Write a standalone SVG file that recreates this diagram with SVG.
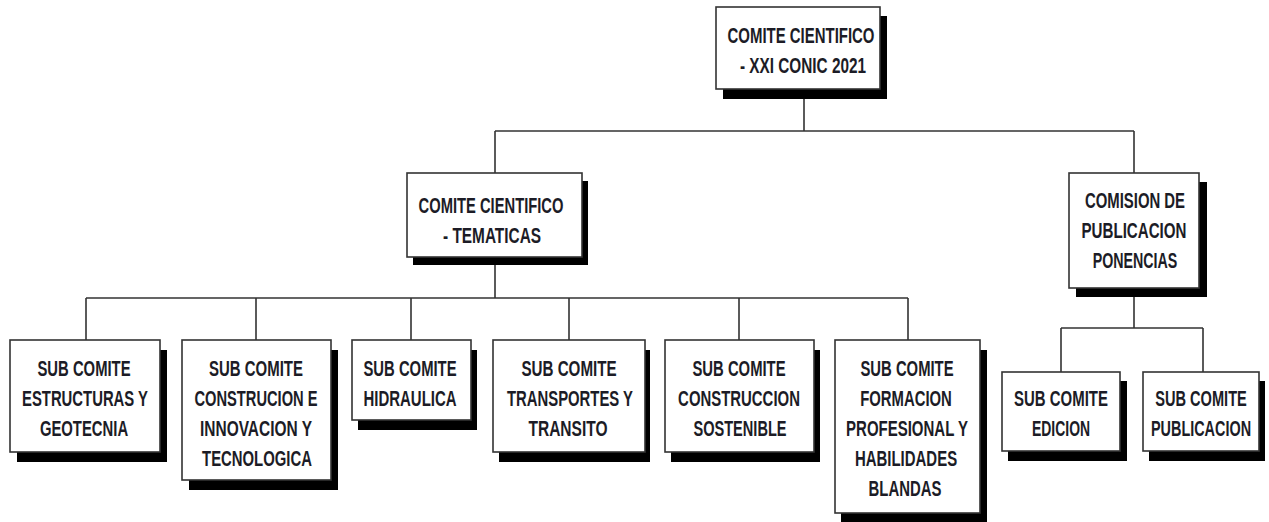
<svg xmlns="http://www.w3.org/2000/svg" width="1269" height="522" viewBox="0 0 1269 522">
<style>
.box{fill:#fff;stroke:#333;stroke-width:1.6}
.sh{fill:#000}
.t{font-family:"Liberation Sans Narrow","Liberation Sans",Arial,sans-serif;font-weight:bold;font-size:22px;fill:#1c1c26;text-anchor:middle}
.c{stroke:#333;stroke-width:1.6;fill:none}
</style>
<rect width="1269" height="522" fill="#fff"/>
<g id="connectors">
<path class="c" d="M804 89V131M495 131H1134M495 131V173M1134 131V173"/>
<path class="c" d="M495 257V298M86 298H908M86 298V340M256 298V340M411 298V340M569 298V340M739 298V340M908 298V340"/>
<path class="c" d="M1134 288V328M1061 328H1203M1061 328V372M1203 328V372"/>
</g>
<g id="n-top">
<rect class="sh" x="723" y="16" width="164" height="83"/>
<rect class="box" x="716" y="7" width="164" height="82"/>
<text class="t" transform="translate(801,43) scale(0.7,1)" textLength="210" lengthAdjust="spacingAndGlyphs">COMITE CIENTIFICO</text>
<text class="t" transform="translate(803,73) scale(0.7,1)" textLength="180" lengthAdjust="spacingAndGlyphs">- XXI CONIC 2021</text>
</g>
<g id="n-tematicas">
<rect class="sh" x="413" y="181" width="175" height="84"/>
<rect class="box" x="407" y="173" width="175" height="84"/>
<text class="t" transform="translate(491,213) scale(0.7,1)" textLength="207" lengthAdjust="spacingAndGlyphs">COMITE CIENTIFICO</text>
<text class="t" transform="translate(492,243) scale(0.7,1)" textLength="140" lengthAdjust="spacingAndGlyphs">- TEMATICAS</text>
</g>
<g id="n-comision">
<rect class="sh" x="1076" y="182" width="131" height="115"/>
<rect class="box" x="1069" y="173" width="130" height="115"/>
<text class="t" transform="translate(1135,208) scale(0.7,1)" textLength="143" lengthAdjust="spacingAndGlyphs">COMISION DE</text>
<text class="t" transform="translate(1134,238) scale(0.7,1)" textLength="150" lengthAdjust="spacingAndGlyphs">PUBLICACION</text>
<text class="t" transform="translate(1135,268) scale(0.7,1)" textLength="121" lengthAdjust="spacingAndGlyphs">PONENCIAS</text>
</g>
<g id="n-estructuras">
<rect class="sh" x="17" y="350" width="150" height="112"/>
<rect class="box" x="10" y="340" width="150" height="112"/>
<text class="t" transform="translate(84,376) scale(0.7,1)" textLength="133" lengthAdjust="spacingAndGlyphs">SUB COMITE</text>
<text class="t" transform="translate(85,406) scale(0.7,1)" textLength="180" lengthAdjust="spacingAndGlyphs">ESTRUCTURAS Y</text>
<text class="t" transform="translate(84,436) scale(0.7,1)" textLength="126" lengthAdjust="spacingAndGlyphs">GEOTECNIA</text>
</g>
<g id="n-construcion">
<rect class="sh" x="189" y="350" width="149" height="140"/>
<rect class="box" x="182" y="340" width="149" height="140"/>
<text class="t" transform="translate(256,376) scale(0.7,1)" textLength="134" lengthAdjust="spacingAndGlyphs">SUB COMITE</text>
<text class="t" transform="translate(256,406) scale(0.7,1)" textLength="176" lengthAdjust="spacingAndGlyphs">CONSTRUCION E</text>
<text class="t" transform="translate(256,436) scale(0.7,1)" textLength="160" lengthAdjust="spacingAndGlyphs">INNOVACION Y</text>
<text class="t" transform="translate(257,466) scale(0.7,1)" textLength="157" lengthAdjust="spacingAndGlyphs">TECNOLOGICA</text>
</g>
<g id="n-hidraulica">
<rect class="sh" x="358" y="350" width="119" height="80"/>
<rect class="box" x="352" y="340" width="119" height="80"/>
<text class="t" transform="translate(410,376) scale(0.7,1)" textLength="133" lengthAdjust="spacingAndGlyphs">SUB COMITE</text>
<text class="t" transform="translate(410,406) scale(0.7,1)" textLength="133" lengthAdjust="spacingAndGlyphs">HIDRAULICA</text>
</g>
<g id="n-transportes">
<rect class="sh" x="499" y="350" width="151" height="112"/>
<rect class="box" x="493" y="340" width="152" height="112"/>
<text class="t" transform="translate(569,376) scale(0.7,1)" textLength="136" lengthAdjust="spacingAndGlyphs">SUB COMITE</text>
<text class="t" transform="translate(570,406) scale(0.7,1)" textLength="180" lengthAdjust="spacingAndGlyphs">TRANSPORTES Y</text>
<text class="t" transform="translate(568,436) scale(0.7,1)" textLength="113" lengthAdjust="spacingAndGlyphs">TRANSITO</text>
</g>
<g id="n-sostenible">
<rect class="sh" x="671" y="350" width="149" height="112"/>
<rect class="box" x="665" y="340" width="149" height="112"/>
<text class="t" transform="translate(739,376) scale(0.7,1)" textLength="133" lengthAdjust="spacingAndGlyphs">SUB COMITE</text>
<text class="t" transform="translate(739,406) scale(0.7,1)" textLength="174" lengthAdjust="spacingAndGlyphs">CONSTRUCCION</text>
<text class="t" transform="translate(740,436) scale(0.7,1)" textLength="133" lengthAdjust="spacingAndGlyphs">SOSTENIBLE</text>
</g>
<g id="n-formacion">
<rect class="sh" x="841" y="350" width="146" height="173"/>
<rect class="box" x="835" y="340" width="145" height="173"/>
<text class="t" transform="translate(907,376) scale(0.7,1)" textLength="133" lengthAdjust="spacingAndGlyphs">SUB COMITE</text>
<text class="t" transform="translate(906,406) scale(0.7,1)" textLength="131" lengthAdjust="spacingAndGlyphs">FORMACION</text>
<text class="t" transform="translate(907,436) scale(0.7,1)" textLength="174" lengthAdjust="spacingAndGlyphs">PROFESIONAL Y</text>
<text class="t" transform="translate(906,466) scale(0.7,1)" textLength="146" lengthAdjust="spacingAndGlyphs">HABILIDADES</text>
<text class="t" transform="translate(905,496) scale(0.7,1)" textLength="104" lengthAdjust="spacingAndGlyphs">BLANDAS</text>
</g>
<g id="n-edicion">
<rect class="sh" x="1008" y="381" width="119" height="80"/>
<rect class="box" x="1002" y="372" width="118" height="79"/>
<text class="t" transform="translate(1061,406) scale(0.7,1)" textLength="134" lengthAdjust="spacingAndGlyphs">SUB COMITE</text>
<text class="t" transform="translate(1061,436) scale(0.7,1)" textLength="83" lengthAdjust="spacingAndGlyphs">EDICION</text>
</g>
<g id="n-publicacion">
<rect class="sh" x="1149" y="381" width="116" height="80"/>
<rect class="box" x="1143" y="372" width="116" height="79"/>
<text class="t" transform="translate(1201,406) scale(0.7,1)" textLength="131" lengthAdjust="spacingAndGlyphs">SUB COMITE</text>
<text class="t" transform="translate(1201,436) scale(0.7,1)" textLength="143" lengthAdjust="spacingAndGlyphs">PUBLICACION</text>
</g>
</svg>
